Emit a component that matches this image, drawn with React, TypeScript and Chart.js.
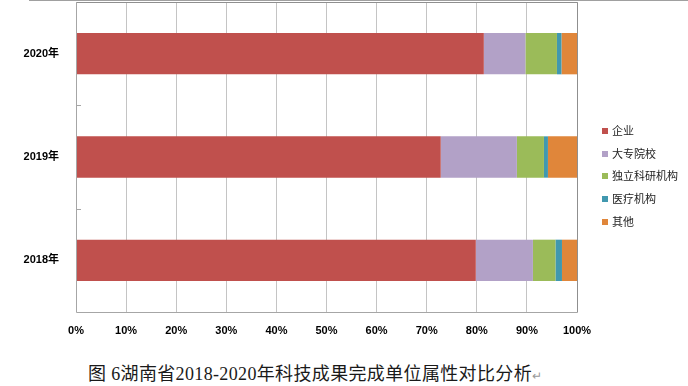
import React, { useEffect, useRef } from "react";
import { Chart, registerables } from "chart.js";

Chart.register(...registerables);

const years = ["2020年", "2019年", "2018年"];
const seriesNames = ["企业", "大专院校", "独立科研机构", "医疗机构", "其他"];
const enterprise = [81.4, 72.8, 79.8];
const universities = [8.3, 15.2, 11.4];
const researchInst = [6.3, 5.4, 4.5];
const medical = [0.9, 0.8, 1.3];
const others = [3.1, 5.8, 3.0];
const colors = ["#C0504D", "#B2A1C7", "#9BBB59", "#4198AF", "#E0863A"];
const xTicks = [0, 10, 20, 30, 40, 50, 60, 70, 80, 90, 100];

const decorPlugin = {
  id: "decor",
  afterDatasetsDraw(chart: any) {
    const { ctx, chartArea } = chart;
    const { left, right, top, bottom } = chartArea;
    ctx.save();
    ctx.lineWidth = 1;
    // plot border
    ctx.strokeStyle = "#8f8f8f";
    ctx.beginPath();
    ctx.moveTo(left, top + 0.5);
    ctx.lineTo(Math.round(right) + 0.5, top + 0.5);
    ctx.lineTo(Math.round(right) + 0.5, Math.round(bottom) + 0.5);
    ctx.stroke();
    ctx.strokeStyle = "#a6a6a6";
    ctx.beginPath();
    ctx.moveTo(Math.round(left) + 0.5, top);
    ctx.lineTo(Math.round(left) + 0.5, Math.round(bottom) + 0.5);
    ctx.lineTo(Math.round(right) + 0.5, Math.round(bottom) + 0.5);
    ctx.stroke();
    // category separators (small inner ticks)
    const n = years.length;
    const band = (bottom - top) / n;
    ctx.strokeStyle = "#a6a6a6";
    for (let i = 1; i < n; i++) {
      const y = Math.round(top + band * i) + 0.5;
      ctx.beginPath();
      ctx.moveTo(left, y);
      ctx.lineTo(left + 5, y);
      ctx.stroke();
    }
    // legend
    ctx.font = "11px 'Noto Sans CJK SC', 'Liberation Sans', sans-serif";
    ctx.textBaseline = "middle";
    ctx.textAlign = "left";
    const legendTop = 131;
    const gap = 22.7;
    chart.data.datasets.forEach((ds: any, i: number) => {
      const cy = Math.round(legendTop + gap * i);
      ctx.fillStyle = ds.backgroundColor;
      ctx.fillRect(602, cy - 3, 6, 6);
      ctx.fillStyle = "#222";
      ctx.fillText(ds.label, 612, cy);
    });
    ctx.restore();
  },
};

export default function App() {
  const ref = useRef<HTMLCanvasElement | null>(null);

  useEffect(() => {
    if (!ref.current) return;
    const values = [enterprise, universities, researchInst, medical, others];
    const chart = new Chart(ref.current, {
      type: "bar",
      data: {
        labels: years,
        datasets: seriesNames.map((name, i) => ({
          label: name,
          data: values[i],
          backgroundColor: colors[i],
          borderWidth: 0,
          barPercentage: 0.4,
          categoryPercentage: 1,
        })),
      },
      options: {
        indexAxis: "y",
        animation: false,
        responsive: false,
        maintainAspectRatio: false,
        layout: { padding: { left: 0, top: 2, right: 111, bottom: 0 } },
        plugins: { legend: { display: false }, tooltip: { enabled: false } },
        scales: {
          x: {
            stacked: true,
            min: 0,
            max: 100,
            afterBuildTicks: (scale: any) => {
              scale.ticks = xTicks.map((v) => ({ value: v }));
            },
            afterFit: (scale: any) => {
              scale.height = 33;
              scale.paddingLeft = 0;
              scale.paddingRight = 0;
            },
            grid: { color: "#c4c4c4", drawTicks: false },
            border: { display: false },
            ticks: {
              padding: 12,
              maxRotation: 0,
              autoSkip: false,
              color: "#000",
              font: { family: "'Liberation Sans', sans-serif", size: 11, weight: "bold" },
              callback: (v: any) => v + "%",
            },
          },
          y: {
            stacked: true,
            afterFit: (scale: any) => {
              scale.width = 76;
              scale.paddingTop = 0;
              scale.paddingBottom = 0;
            },
            grid: { display: false },
            border: { display: false },
            ticks: {
              padding: 9,
              color: "#000",
              font: { family: "'Liberation Sans', 'Noto Sans CJK SC', sans-serif", size: 11, weight: "bold" },
            },
          },
        },
      },
      plugins: [decorPlugin],
    });
    return () => chart.destroy();
  }, []);

  return (
    <div
      style={{
        position: "absolute",
        left: 0,
        top: 0,
        width: 688,
        height: 386,
        background: "#fff",
        overflow: "hidden",
      }}
    >
      <div
        style={{
          position: "absolute",
          left: 29,
          top: 0,
          width: 659,
          height: 1,
          background: "#a0a0a0",
        }}
      />
      <canvas ref={ref} width={688} height={345} style={{ position: "absolute", left: 0, top: 0 }} />
      <div
        style={{
          position: "absolute",
          left: 88,
          top: 362,
          fontSize: 18,
          lineHeight: "24px",
          letterSpacing: "0.35px",
          whiteSpace: "nowrap",
          color: "#1a1a1a",
          fontFamily: "'Liberation Serif', 'Noto Sans CJK SC', serif",
        }}
      >
        图 6湖南省2018-2020年科技成果完成单位属性对比分析
        <span style={{ color: "#999", fontSize: 12 }}>↵</span>
      </div>
    </div>
  );
}
